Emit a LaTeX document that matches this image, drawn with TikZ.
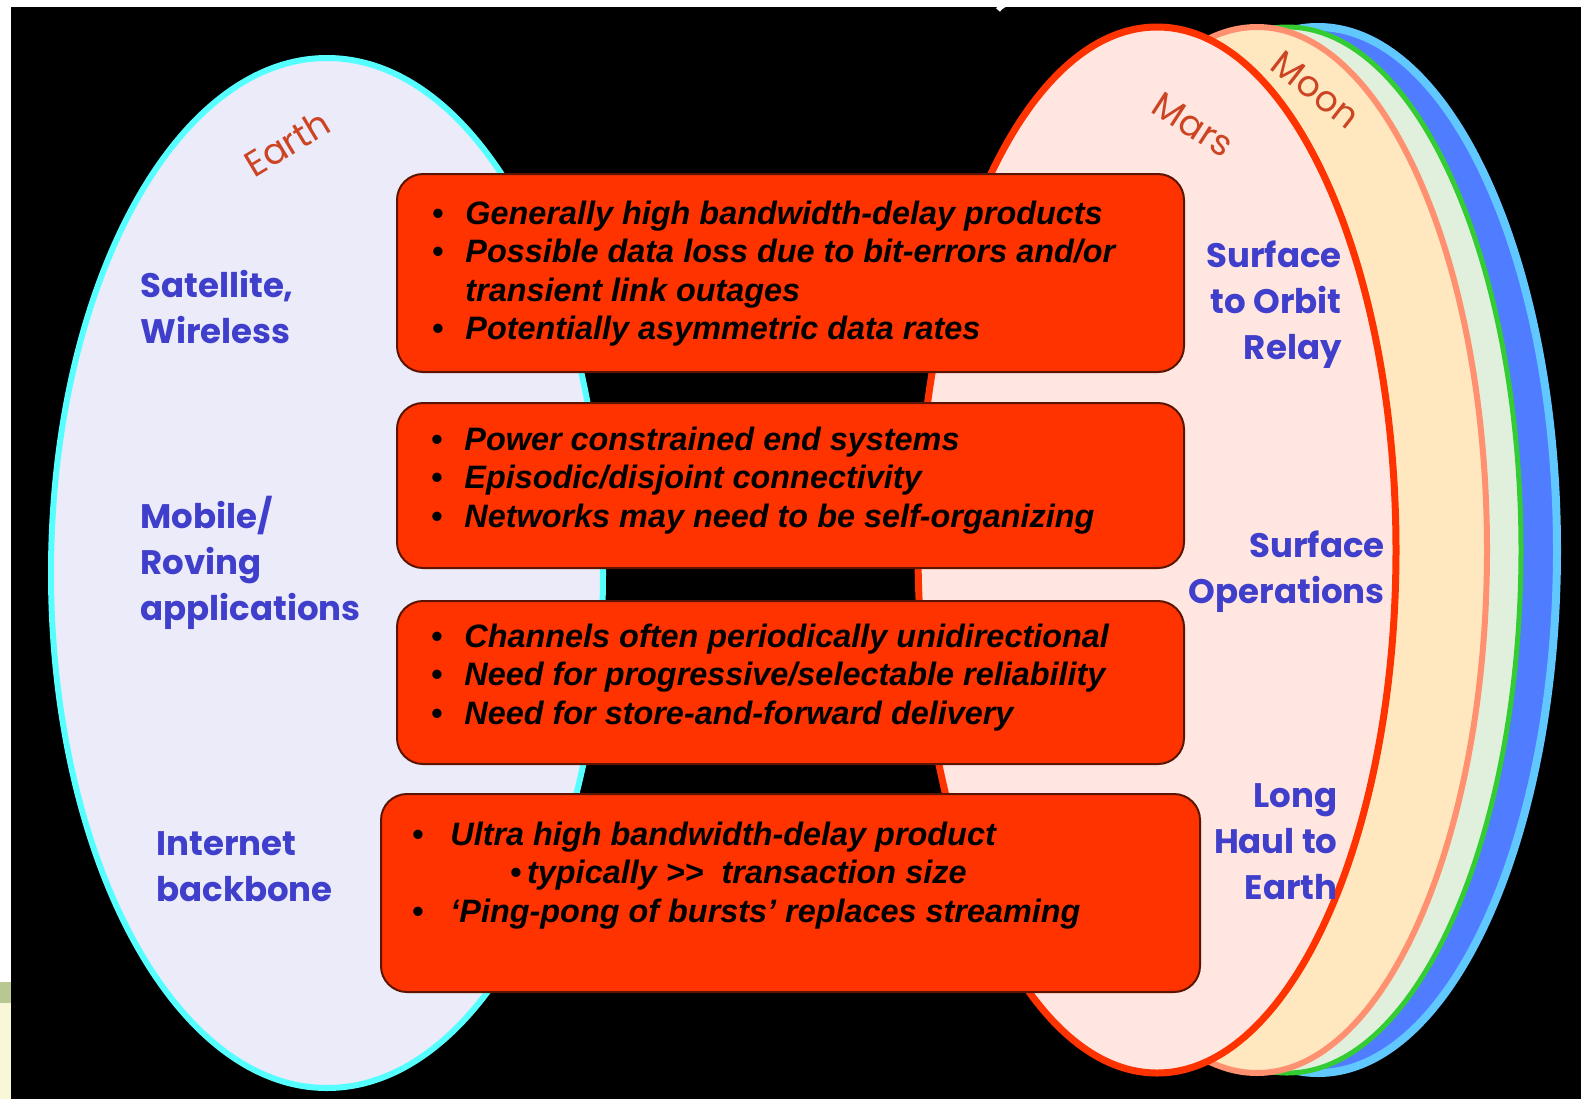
\documentclass[tikz,border=0pt]{standalone}
\usepackage{fontspec}
\setmainfont{Liberation Sans}
\newfontfamily\handfont{Poppins}
\usetikzlibrary{positioning}
\definecolor{earthfill}{HTML}{EBEBFA}
\definecolor{earthline}{HTML}{55FFFF}
\definecolor{marsfill}{HTML}{FFE6E0}
\definecolor{marsline}{HTML}{FF3300}
\definecolor{moonfill}{HTML}{FFE8C0}
\definecolor{moonline}{HTML}{FF9070}
\definecolor{greenfill}{HTML}{E0F0DC}
\definecolor{greenline}{HTML}{33CC33}
\definecolor{bluefill}{HTML}{507CFF}
\definecolor{blueline}{HTML}{60C8FF}
\definecolor{boxfill}{HTML}{FF3300}
\definecolor{boxline}{HTML}{5A1400}
\definecolor{labelblue}{HTML}{3F3FCC}
\definecolor{bodyred}{HTML}{CC4422}
\definecolor{paperyellow}{HTML}{F8F8D8}
\definecolor{paperolive}{HTML}{B8C890}
\tikzset{
    infobox/.style={draw=boxline, line width=1pt, fill=boxfill, rounded corners=13pt,
        inner sep=0pt, anchor=north west},
    infotext/.style={anchor=base west, inner sep=0pt, align=left,
        font=\fontsize{16.2}{19.25}\selectfont\bfseries\itshape},
    sidelabel/.style={inner sep=0pt, text=labelblue,
        font=\handfont\fontsize{17}{23}\selectfont\bfseries},
    bodylabel/.style={inner sep=0pt, text=bodyred, font=\handfont\fontsize{18}{20}\selectfont}
}
\newcommand{\bul}[1][16.5pt]{\makebox[#1][l]{\upshape\textbullet}}

\begin{document}
\begin{tikzpicture}[x=0.5pt, y=-0.5pt]
    \useasboundingbox (0,0) rectangle (1581,1099);
    \fill[white] (0,0) rectangle (1581,1099);
    \fill[black] (11,7) rectangle (1581,1099);
    \fill[paperolive] (0,982) rectangle (11,1003);
    \fill[paperyellow] (0,1003) rectangle (11,1099);
    \draw[white, line width=2.5pt] (998,10) .. controls (1004,2) and (1018,0) .. (1034,0);

    \foreach \cx/\rx/\fc/\lc/\lw in {1318/239/bluefill/blueline/4,
        1287/234/greenfill/greenline/2.5, 1257/230/moonfill/moonline/3,
        1157/239/marsfill/marsline/3.5}{
        \filldraw[fill=\fc, draw=\lc, line width=\lw] (\cx,550) ellipse [x radius=\rx, y radius=523];
    }
    \filldraw[fill=earthfill, draw=earthline, line width=3] (327,573) ellipse [x radius=276, y radius=515];

    \node[bodylabel, rotate=31] (earth) at (287,143) {Earth};
    \node[bodylabel, rotate=-33] (mars) at (1193,125) {Mars};
    \node[bodylabel, rotate=-38] (moon) at (1316,90) {Moon};

    \node[infobox, minimum width=393.5pt, minimum height=99pt] (box1) at (396,173) {};
    \node[infobox, minimum width=393.5pt, minimum height=82.5pt] (box2) at (396,402) {};
    \node[infobox, minimum width=393.5pt, minimum height=81.5pt] (box3) at (396,600) {};
    \node[infobox, minimum width=409.5pt, minimum height=99pt] (box4) at (380,793) {};

    \node[infotext] (text1) at (432,339.5) {\bul Generally high bandwidth-delay products\\
        \bul Possible data loss due to bit-errors and/or\\
        \hspace*{16.5pt}transient link outages\\
        \bul Potentially asymmetric data rates};
    \node[infotext] (text2) at (431,527) {\bul Power constrained end systems\\
        \bul Episodic/disjoint connectivity\\
        \bul Networks may need to be self-organizing};
    \node[infotext] (text3) at (431,724) {\bul Channels often periodically unidirectional\\
        \bul Need for progressive/selectable reliability\\
        \bul Need for store-and-forward delivery};
    \node[infotext] (text4) at (412,922) {\bul[19pt]Ultra high bandwidth-delay product\\
        \hspace*{49pt}{\upshape\textbullet}\,typically \mbox{>}\mbox{>}\ \ transaction size\\
        \bul[19pt]‘Ping-pong of bursts’ replaces streaming};

    \node[sidelabel, align=left, anchor=base west] (satellite) at (140,343) {Satellite,\\Wireless};
    \node[sidelabel, align=left, anchor=base west] (mobile) at (140,620) {Mobile/\\Roving\\applications};
    \node[sidelabel, align=left, anchor=base west] (internet) at (156,901) {Internet\\backbone};
    \node[sidelabel, align=right, anchor=base east] (relay) at (1342,359) {Surface\\to Orbit\\Relay};
    \node[sidelabel, align=right, anchor=base east] (surface) at (1385,603) {Surface\\Operations};
    \node[sidelabel, align=right, anchor=base east] (longhaul) at (1338,899) {Long\\Haul to\\Earth};
\end{tikzpicture}
\end{document}
